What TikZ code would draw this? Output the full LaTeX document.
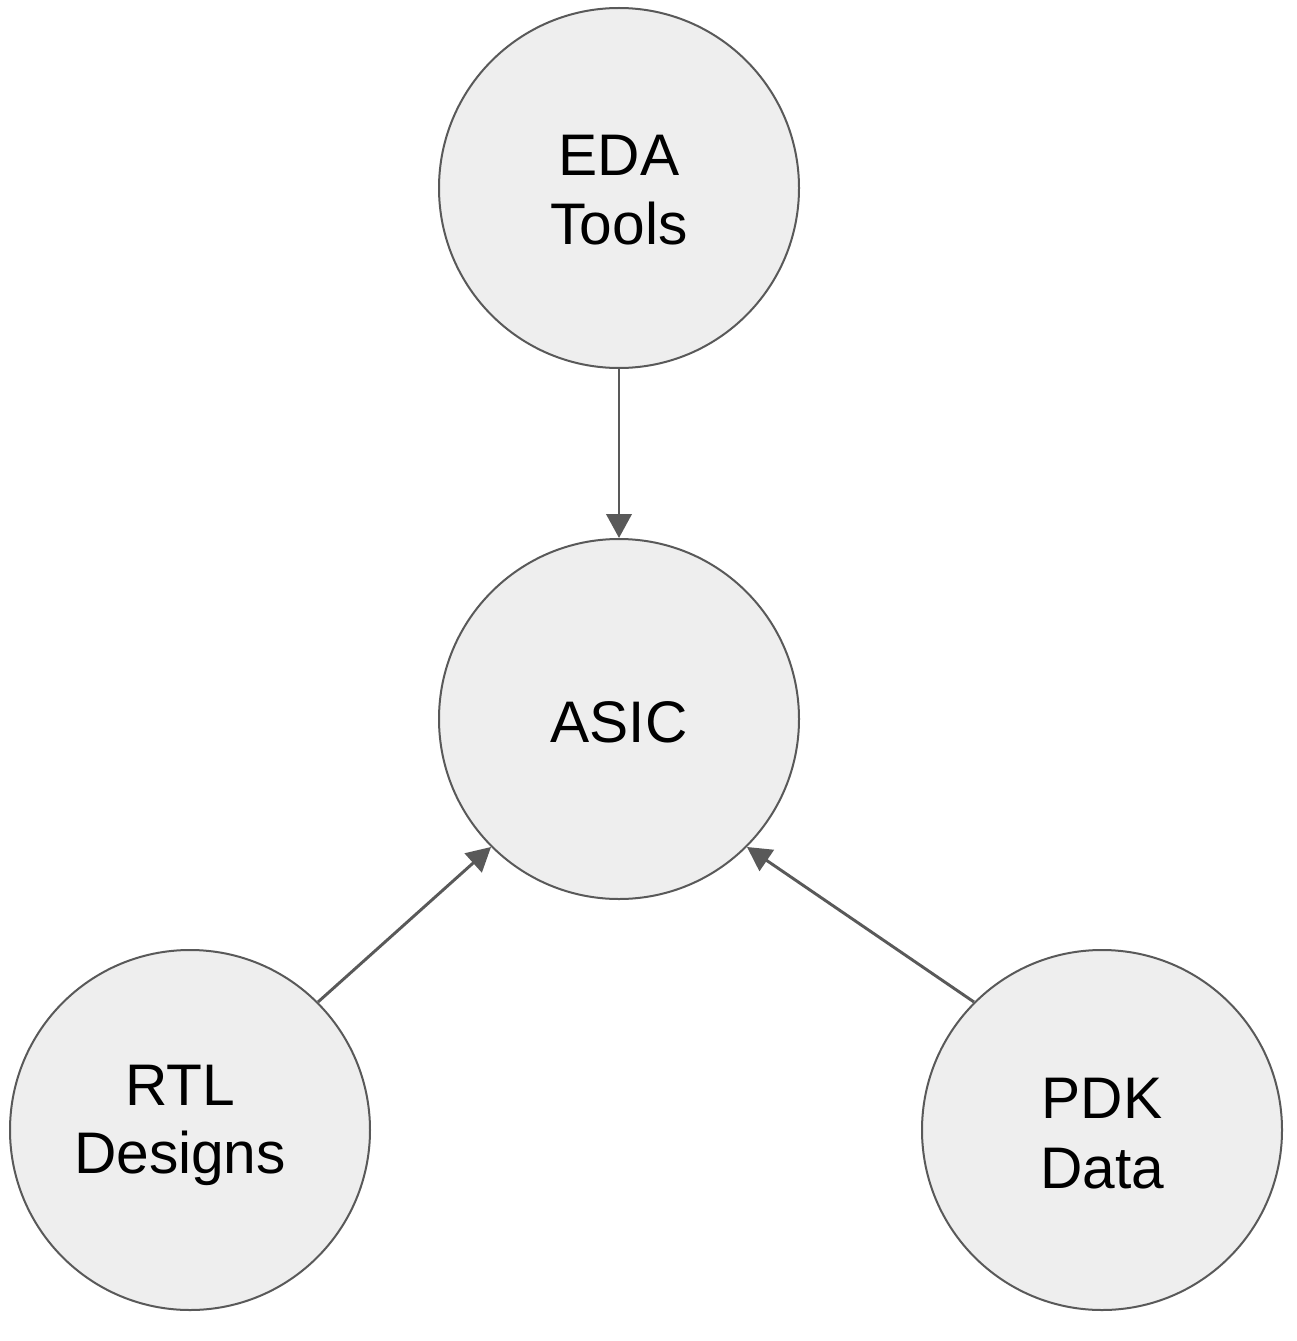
\documentclass[tikz,border=0pt]{standalone}
\usepackage{fontspec}
\setmainfont{Liberation Sans}
\usetikzlibrary{arrows.meta}
\definecolor{ballfill}{HTML}{EEEEEE}
\definecolor{ballline}{HTML}{595959}
\tikzset{
  ball/.style={circle, draw=ballline, fill=ballfill, line width=1.5pt, minimum size=270pt, inner sep=0pt},
  txt/.style={anchor=base, inner sep=0pt, font=\fontsize{44pt}{50pt}\selectfont, text=black},
  conn/.style={draw=ballline, line width=2.2pt, -{Triangle[length=18pt, width=19pt]}}
}
\begin{document}
\begin{tikzpicture}[x=0.75pt, y=-0.75pt]
\useasboundingbox (0,0) rectangle (1296,1341);
\node[ball] (eda) at (619,188) {};
\node[ball] (asic) at (619,719) {};
\node[ball] (rtl) at (190,1130) {};
\node[ball] (pdk) at (1102,1130) {};
\node[txt] (eda1) at (619,176) {EDA};
\node[txt] (eda2) at (619,245) {Tools};
\node[txt] (asic1) at (619,742) {ASIC};
\node[txt] (rtl1) at (180,1105) {RTL};
\node[txt] (rtl2) at (180,1173) {Designs};
\node[txt] (pdk1) at (1102,1118) {PDK};
\node[txt] (pdk2) at (1102,1188) {Data};
\draw[conn] (eda.south) -- (asic.north);
\draw[conn] (rtl.45) -- (asic.-135);
\draw[conn] (pdk.135) -- (asic.-45);
\end{tikzpicture}
\end{document}
